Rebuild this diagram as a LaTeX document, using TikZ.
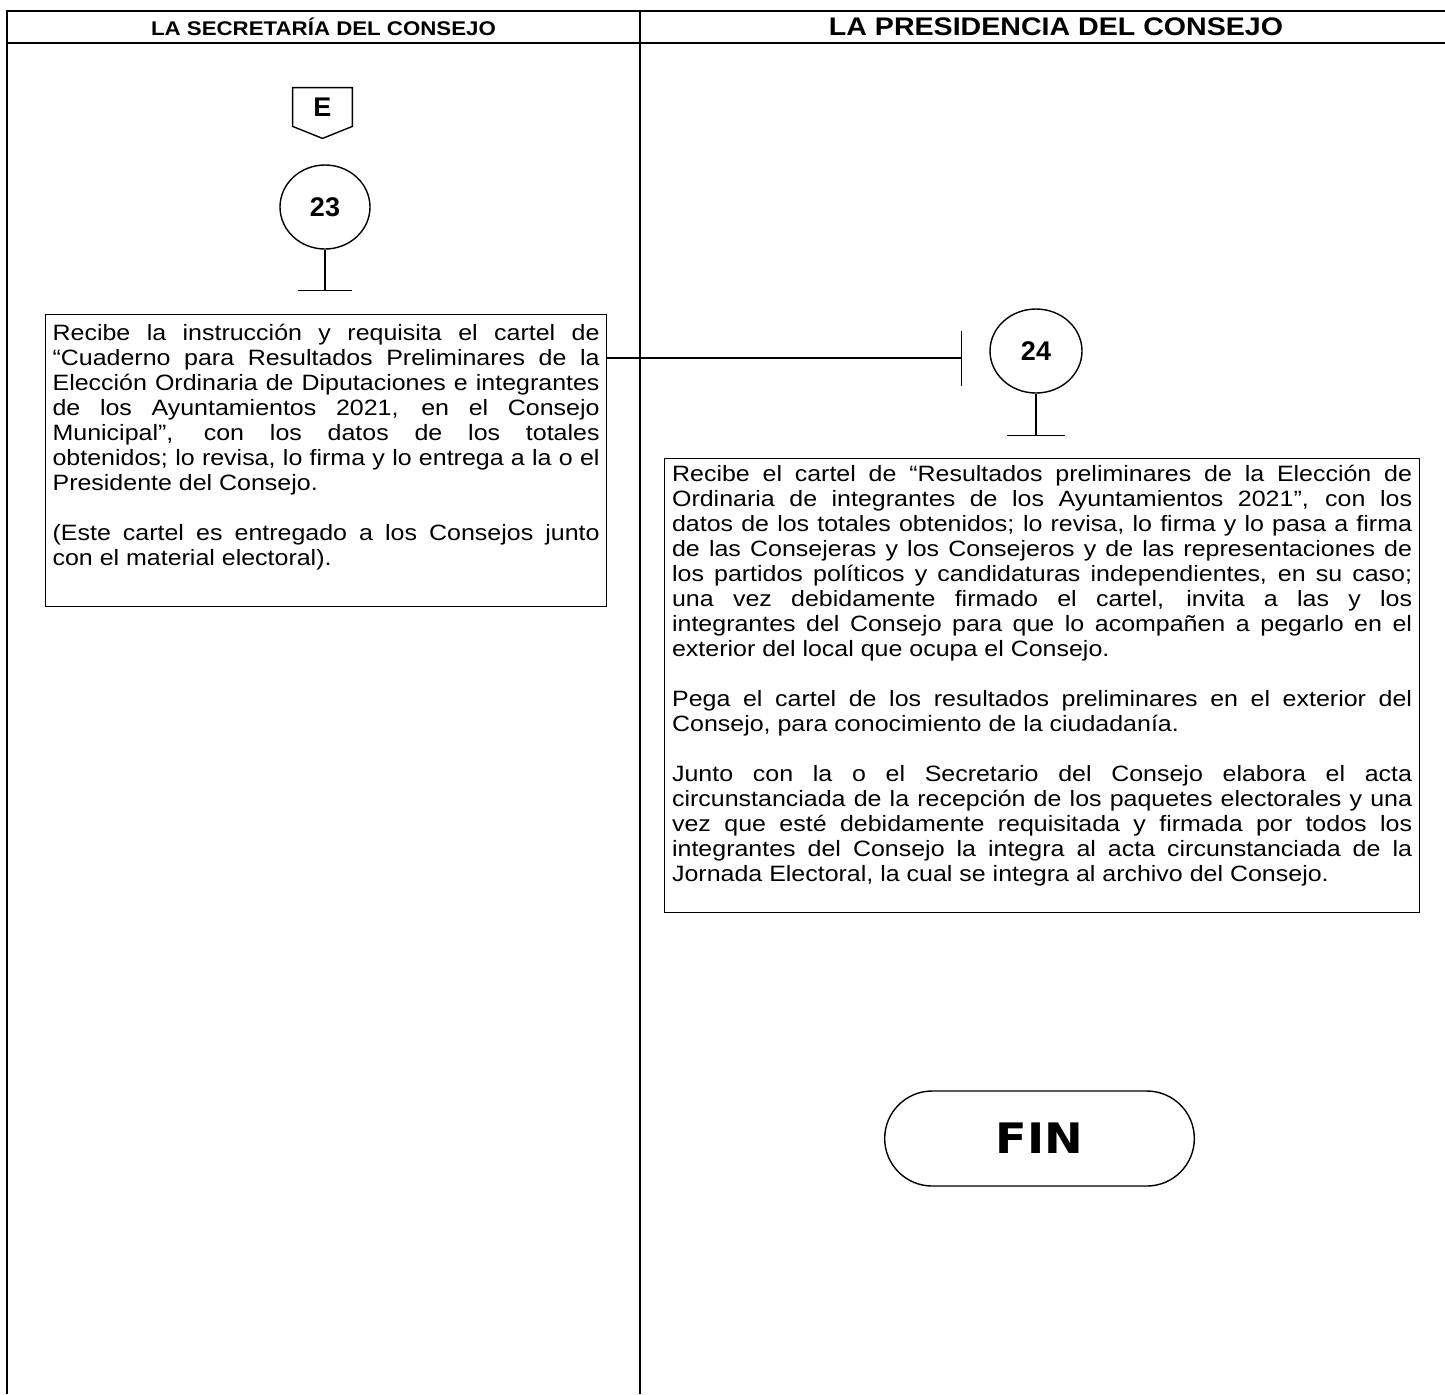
\documentclass[tikz,border=0pt]{standalone}
\usepackage{fontspec}
\setmainfont{Liberation Sans}
\newfontfamily\bodyfont[FakeStretch=1.125]{Liberation Sans}
\newfontfamily\finfont[FakeStretch=1.1]{DejaVu Sans}
\usetikzlibrary{shapes.geometric,shapes.misc,arrows.meta,calc}
\newcommand\BoxText{\bodyfont\fontsize{11.1}{12.5}\selectfont}
\tikzset{
  lane/.style={
    line width=1pt
  },
  title/.style={
    inner sep=0pt,
    font=\bodyfont\bfseries\fontsize{9.9}{12}\selectfont
  },
  conn/.style={
    inner sep=0pt,
    minimum width=29.5pt,
    minimum height=19pt,
    font=\bfseries\fontsize{13.5}{15}\selectfont
  },
  circ/.style={
    shape=ellipse,
    draw,
    line width=0.7pt,
    inner sep=0pt,
    minimum width=45pt,
    minimum height=42pt,
    font=\bfseries\fontsize{13.5}{15}\selectfont
  },
  tbar/.style={
    line width=0.7pt,
    -{Bar[width=#1]}
  },
  tbar/.default=27pt,
  box/.style={
    draw,
    line width=0.6pt,
    anchor=north west,
    inner ysep=3.5pt,
    font=\BoxText
  },
  fin/.style={
    shape=rounded rectangle,
    draw,
    line width=0.7pt,
    minimum width=161.5pt,
    minimum height=47.5pt,
    font=\finfont\bfseries\fontsize{21}{25}\selectfont
  }
}

\begin{document}
\begin{tikzpicture}[x=0.5pt,y=-0.5pt]
        \useasboundingbox (0,0) rectangle (1445,1394);

        % lanes
        \draw[lane] (7,1394) -- (7,11) -- (1450,11);
        \draw[lane] (7,43) -- (1450,43);
        \draw[lane] (640,11) -- (640,1394);
        \node[title] (sec) at (323.5,27) {LA SECRETARÍA DEL CONSEJO};
        \node[title, font=\bodyfont\bfseries\fontsize{12.7}{15}\selectfont] (pres) at (1056,27) {LA PRESIDENCIA DEL CONSEJO};

        % secretaria
        \node[conn] (e) at (322.5,107) {E};
        \draw[line width=0.7pt] (e.north west) -- (e.north east) -- (e.south east)
            -- ($(e.south)+(0,12)$) -- (e.south west) -- cycle;

        \node[circ] (c23) at (325,207) {23};
        \coordinate (t23) at (325,291);
        \draw[tbar] (c23) -- (t23);

        \node[box, inner xsep=3.5pt, inner ysep=5pt] (b23) at (45,314) {\parbox[c][136pt][t]{273.5pt}{%
            \hyphenpenalty=10000 \tolerance=9999 \emergencystretch=3em
            \setlength{\parskip}{12.5pt}%
            Recibe la instrucción y requisita el cartel de\linebreak
            “Cuaderno para Resultados Preliminares de la\linebreak
            Elección Ordinaria de Diputaciones e integrantes\linebreak
            de los Ayuntamientos 2021, en el Consejo\linebreak
            Municipal”, con los datos de los totales\linebreak
            obtenidos; lo revisa, lo firma y lo entrega a la o el\linebreak
            Presidente del Consejo.\par
            (Este cartel es entregado a los Consejos junto\linebreak
            con el material electoral).}};

        % presidencia
        \coordinate (t24in) at (962,358);
        \draw[tbar=27.5pt] (b23.east |- t24in) -- (t24in);

        \node[circ, minimum width=46pt] (c24) at (1036,351) {24};
        \coordinate (t24) at (1036,436);
        \draw[tbar=29pt] (c24) -- (t24);

        \node[box, inner xsep=3.75pt] (b24) at (664,458) {\parbox[c][220pt][t]{370pt}{%
            \hyphenpenalty=10000 \tolerance=9999 \emergencystretch=3em
            \setlength{\parskip}{12.5pt}%
            Recibe el cartel de “Resultados preliminares de la Elección de\linebreak
            Ordinaria de integrantes de los Ayuntamientos 2021”, con los\linebreak
            datos de los totales obtenidos; lo revisa, lo firma y lo pasa a firma\linebreak
            de las Consejeras y los Consejeros y de las representaciones de\linebreak
            los partidos políticos y candidaturas independientes, en su caso;\linebreak
            una vez debidamente firmado el cartel, invita a las y los\linebreak
            integrantes del Consejo para que lo acompañen a pegarlo en el\linebreak
            exterior del local que ocupa el Consejo.\par
            Pega el cartel de los resultados preliminares en el exterior del\linebreak
            Consejo, para conocimiento de la ciudadanía.\par
            Junto con la o el Secretario del Consejo elabora el acta\linebreak
            circunstanciada de la recepción de los paquetes electorales y una\linebreak
            vez que esté debidamente requisitada y firmada por todos los\linebreak
            integrantes del Consejo la integra al acta circunstanciada de la\linebreak
            Jornada Electoral, la cual se integra al archivo del Consejo.}};

        \node[fin] (fin) at (1039.5,1138.5) {FIN};
\end{tikzpicture}
\end{document}
